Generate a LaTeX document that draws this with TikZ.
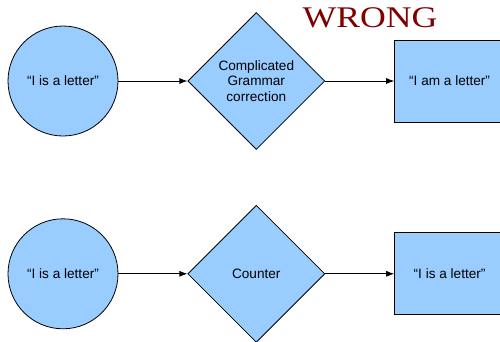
\documentclass[tikz,border=0pt]{standalone}
\usepackage{fontspec}
\setmainfont{Liberation Sans}
\newfontfamily\headserif{Liberation Serif}
\usetikzlibrary{arrows.meta, positioning, shapes.geometric}
\definecolor{boxblue}{HTML}{99CCFF}
\definecolor{wrongred}{HTML}{7F0000}

\begin{document}
\begin{tikzpicture}[
  node distance=69pt and 69pt,
  every node/.style={font=\fontsize{13.6}{15.7}\selectfont},
  inputword/.style={circle, draw=black, fill=boxblue, line width=0.8pt,
                inner sep=0pt, minimum size=110pt, align=center},
  fixstep/.style={diamond, draw=black, fill=boxblue, line width=0.8pt,
               inner sep=0pt, minimum size=137pt, aspect=1, align=center},
  outputword/.style={rectangle, draw=black, fill=boxblue, line width=0.8pt,
                inner sep=0pt, minimum width=110pt, minimum height=82pt,
                align=center},
  arr/.style={-{Latex[length=8pt, width=6pt]}, line width=0.8pt, black}
]
  \useasboundingbox (0pt,0pt) rectangle (500pt,-341pt);

  % top row: the wrong way
  \node[inputword] (inA) at (63pt,-81pt) {``I is a letter''};
  \node[fixstep, right=of inA] (fixA) {Complicated\\Grammar\\correction};
  \node[outputword, right=of fixA] (outA) {``I am a letter''};

  \node[font=\headserif\fontsize{30}{30}\selectfont, text=wrongred,
        xscale=1.19, inner sep=0pt] (wrong) at (370pt,-18pt) {WRONG};

  % bottom row
  \node[inputword, below=82pt of inA] (inB) {``I is a letter''};
  \node[fixstep, right=of inB] (fixB) {Counter};
  \node[outputword, right=of fixB] (outB) {``I is a letter''};

  \draw[arr] (inA) -- (fixA);
  \draw[arr] (fixA) -- (outA);
  \draw[arr] (inB) -- (fixB);
  \draw[arr] (fixB) -- (outB);
\end{tikzpicture}
\end{document}
